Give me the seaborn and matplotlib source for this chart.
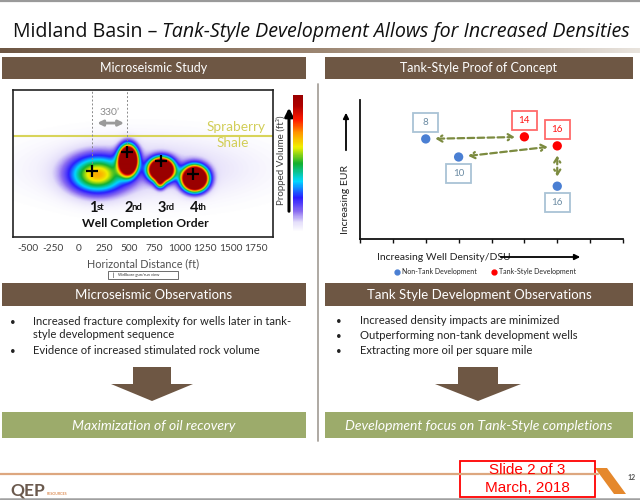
import numpy as np
import pandas as pd
import matplotlib
matplotlib.use("Agg")
import matplotlib.pyplot as plt
import seaborn as sns
from matplotlib.patches import Rectangle, Polygon
from matplotlib.colors import LinearSegmentedColormap
from matplotlib.lines import Line2D

# ---------------- data ----------------
# microseismic study (left)
well_x_ft = [130, 480, 810, 1130]
well_level = [45, 58, 52, 43]          # vertical position of each well (0 = bottom, 100 = top)
well_num = ["1", "2", "3", "4"]
well_suffix = ["st", "nd", "rd", "th"]
dist_ticks = [-500, -250, 0, 250, 500, 750, 1000, 1250, 1500, 1750]
shale_level = 69
spacing_label = "330’"

# stimulated volume blobs
blob_x = [180, 488, 818, 1148, 805, 650]
blob_y = [42, 52, 45.5, 39.5, 36.5, 46]
blob_sx = [185, 53, 71, 73, 30, 650]
blob_sy = [8.5, 5.6, 4.4, 4.8, 2.6, 13]
blob_peak = [0.62, 3.0, 3.0, 3.0, 0.55, 0.11]

# tank-style proof of concept (right)
nontank_density = [2, 3, 6]
nontank_eur = [7.2, 5.9, 3.8]
nontank_wells = [8, 10, 16]
nontank_label_side = [1, -1, -1]
tank_density = [5, 6]
tank_eur = [7.35, 6.7]
tank_wells = [14, 16]
tank_label_side = [1, 1]
links = [("nt", 0, "t", 0), ("nt", 1, "t", 1), ("t", 1, "nt", 2)]

left_bullets = ["Increased fracture complexity for wells later in tank-\nstyle development sequence",
                "Evidence of increased stimulated rock volume"]
right_bullets = ["Increased density impacts are minimized",
                 "Outperforming non-tank development wells",
                 "Extracting more oil per square mile"]

BROWN = "#6E5744"
GREEN = "#9CAB6B"
BLUE = "#4A7FD3"
RED = "#FF0000"
OLIVE = "#7C8B40"

sns.set_style("white")
plt.rcParams["font.family"] = ["Lato", "DejaVu Sans"]

W, H = 640, 500
fig = plt.figure(figsize=(6.4, 5.0), dpi=100)


def px(x0, y0, x1, y1):
    return [x0 / W, 1 - y1 / H, (x1 - x0) / W, (y1 - y0) / H]


bg = fig.add_axes([0, 0, 1, 1])
bg.set_zorder(-1)

# gradient bar under title
grad = LinearSegmentedColormap.from_list("g", ["#6E5744", "#9c8672", "#e9e4de"])
bg.imshow(np.linspace(0, 1, 256)[None, :], extent=[0, 640, 53, 48], cmap=grad, aspect="auto")
bg.set_xlim(0, W)
bg.set_ylim(H, 0)
bg.axis("off")

bg.plot([0, 640], [0.8, 0.8], color="#9a9a9a", lw=1.6)
bg.plot([0, 640], [498.8, 498.8], color="#a0a0a0", lw=1.8)

# title
t1 = bg.text(13, 37, "Midland Basin – ", fontsize=14.1, family="Open Sans", va="baseline", color="#111111")
bg.annotate("Tank-Style Development Allows for Increased Densities", xy=(1, 0), xycoords=t1,
            va="bottom", ha="left", fontsize=14.1, family="Open Sans", style="italic", color="#111111")


def band(x0, x1, y0, y1, color, text, italic=False, size=9):
    bg.add_patch(Rectangle((x0, y0), x1 - x0, y1 - y0, facecolor=color, edgecolor="none"))
    bg.text((x0 + x1) / 2, (y0 + y1) / 2 + 0.5, text, color="white", ha="center", va="center",
            fontsize=size, style="italic" if italic else "normal")


band(2, 306, 57, 79, BROWN, "Microseismic Study")
band(325, 633, 57, 79, BROWN, "Tank-Style Proof of Concept")
band(2, 306, 283, 306, BROWN, "Microseismic Observations", size=9.5)
band(325, 633, 283, 306, BROWN, "Tank Style Development Observations", size=9.5)
band(2, 306, 412, 438, GREEN, "Maximization of oil recovery", italic=True, size=10)
band(325, 633, 412, 438, GREEN, "Development focus on Tank-Style completions", italic=True, size=10)

bg.plot([318, 318], [84, 441], color="#a8a29c", lw=1.3)


def down_arrow(cx, sw, hw, top, neck, tip):
    pts = [(cx - sw / 2, top), (cx + sw / 2, top), (cx + sw / 2, neck), (cx + hw / 2, neck),
           (cx, tip), (cx - hw / 2, neck), (cx - sw / 2, neck)]
    bg.add_patch(Polygon(pts, closed=True, facecolor=BROWN, edgecolor="none"))


down_arrow(152, 38, 82, 367, 384, 401)
down_arrow(478, 40, 86, 367, 384, 401)

# bullets
yy = [322, 351]
for y, s in zip(yy, left_bullets):
    bg.text(10, y - 4, "•", fontsize=7, va="top", color="#222222")
    bg.text(33, y - 6, s, fontsize=8.15, va="top", color="#222222", linespacing=1.2)
for i, s in enumerate(right_bullets):
    y = 321 + i * 15
    bg.text(336, y - 4, "•", fontsize=7, va="top", color="#222222")
    bg.text(360, y - 6, s, fontsize=8.15, va="top", color="#222222")

# footer
bg.plot([0, 598], [474, 474], color="#DDA77F", lw=1.6)
logo = bg.text(10, 496, "QEP", fontsize=12.5, fontweight="bold", color="#6B5A4E", va="baseline")
bg.annotate("RESOURCES", xy=(1, 0), xycoords=logo, xytext=(1.5, 2.5), textcoords="offset points",
            fontsize=2.6, color="#D2691E", ha="left", va="bottom")
bg.add_patch(Polygon([(595, 468), (607, 468), (626, 494), (614, 494)], closed=True,
                     facecolor="#E5882C", edgecolor="none"))
bg.text(628, 478, "12", fontsize=5, color="#555555", fontweight="bold", va="center")
bg.add_patch(Rectangle((460, 461), 135, 36, facecolor="white", edgecolor="#FF0000", lw=1.3))
bg.text(527.5, 470.5, "Slide 2 of 3", family="Liberation Sans", fontsize=11, color="#FF0000",
        ha="center", va="center")
bg.text(527.5, 487.5, "March, 2018", family="Liberation Sans", fontsize=11, color="#FF0000",
        ha="center", va="center")

# ---------------- microseismic heatmap ----------------
hm = fig.add_axes(px(13, 90, 273, 237))
xs = np.linspace(-650, 1920, 520)
ys = np.linspace(0, 100, 220)
X, Y = np.meshgrid(xs, ys)
field = np.zeros_like(X)
for bx, by, sx, sy, pk in zip(blob_x, blob_y, blob_sx, blob_sy, blob_peak):
    field += pk * np.exp(-0.5 * (((X - bx) / sx) ** 2 + ((Y - by) / sy) ** 2))

vol_cmap = LinearSegmentedColormap.from_list("vol", [
    (0.0, "#ffffff"), (0.07, "#e4defa"), (0.15, "#8a6cf0"), (0.25, "#2a1cff"),
    (0.37, "#00d8ff"), (0.5, "#12b030"), (0.62, "#f0f000"), (0.72, "#ff9c00"),
    (0.82, "#ff1a00"), (0.92, "#b00000"), (1.0, "#9a0000")])
im = hm.imshow(field, extent=[-650, 1920, 0, 100], origin="lower", aspect="auto",
               cmap=vol_cmap, vmin=0, vmax=1, interpolation="bilinear")
hm.set_xlim(-650, 1920)
hm.set_ylim(0, 100)
for sp in hm.spines.values():
    sp.set_color("#222222")
    sp.set_linewidth(1.2)
hm.set_yticks([])
hm.set_xticks(dist_ticks)
hm.set_xticklabels([str(t) for t in dist_ticks])
hm.tick_params(axis="x", length=0, labelsize=7.3, labelcolor="#404040", pad=5)
hm.set_xlabel("Horizontal Distance (ft)", fontsize=7.8, color="#505050", labelpad=4)

hm.axhline(shale_level, color="#D8D45A", lw=1.5)
hm.text(1555, shale_level + 6, "Spraberry", color="#D2CE58", fontsize=9.8, ha="center", va="center")
hm.text(1525, shale_level - 5, "Shale", color="#D2CE58", fontsize=9.8, ha="center", va="center")

for i in range(2):
    hm.plot([well_x_ft[i], well_x_ft[i]], [well_level[i], 100], color="#8a8a8a", lw=0.7, ls=(0, (2, 2)))
hm.annotate("", xy=(well_x_ft[1] - 5, 77.5), xytext=(well_x_ft[0] + 25, 77.5),
            arrowprops=dict(arrowstyle="<|-|>", color="#9a9a9a", lw=2, mutation_scale=8))
hm.text((well_x_ft[0] + well_x_ft[1]) / 2, 84.5, spacing_label, color="#8a8a8a", fontsize=7.5,
        ha="center", va="center")

hm.plot(well_x_ft, well_level, ls="none", marker="+", ms=9, mew=1.6, color="black")
for x, n, suf in zip(well_x_ft, well_num, well_suffix):
    t = hm.text(x + 10, 20, n, fontsize=10.5, fontweight="bold", ha="center", va="center", color="#111111")
    hm.annotate(suf, xy=(1, 1), xycoords=t, xytext=(-0.5, -1.5), textcoords="offset points",
                fontsize=6.8, fontweight="bold", ha="left", va="top", color="#111111")
hm.text(655, 9.5, "Well Completion Order", fontsize=8.7, fontweight="bold", ha="center",
        va="center", color="#111111")

cax = fig.add_axes(px(293, 95, 303, 232))
cb = fig.colorbar(im, cax=cax)
cb.outline.set_visible(False)
cb.set_ticks([])
bg.annotate("", xy=(289, 105), xytext=(289, 214),
            arrowprops=dict(arrowstyle="-|>", color="black", lw=2.2, mutation_scale=12))
bg.text(281, 160, "Propped Volume (ft³)", rotation=90, fontsize=7, color="#404040",
        ha="center", va="center")

bg.add_patch(Rectangle((108, 271), 70, 8, facecolor="white", edgecolor="#555555", lw=0.6))
bg.text(113, 275, "|", fontsize=3.5, fontweight="bold", ha="center", va="center")
bg.text(118, 275, "Wellbore gun/run view", fontsize=3, ha="left", va="center", color="#333333")

# ---------------- tank-style scatter ----------------
df = pd.DataFrame({
    "density": nontank_density + tank_density,
    "eur": nontank_eur + tank_eur,
    "wells": nontank_wells + tank_wells,
    "side": nontank_label_side + tank_label_side,
    "kind": ["Non-Tank Development"] * len(nontank_density) + ["Tank-Style Development"] * len(tank_density),
})

sc = fig.add_axes(px(360, 100, 623, 239))
sns.scatterplot(data=df, x="density", y="eur", hue="kind", ax=sc, s=45, edgecolor="none",
                palette={"Non-Tank Development": BLUE, "Tank-Style Development": RED},
                legend=False, zorder=5)
sc.set_xlim(0, 8)
sc.set_ylim(0, 10)
sc.set_xlabel("")
sc.set_ylabel("")
for s in ["top", "right"]:
    sc.spines[s].set_visible(False)
for s in ["left", "bottom"]:
    sc.spines[s].set_color("#111111")
    sc.spines[s].set_linewidth(1.3)
sc.set_xticks(range(0, 9))
sc.set_xticklabels([])
sc.set_yticks([])
sc.tick_params(axis="x", direction="out", length=3, width=1, color="#111111", bottom=True)

box_w, box_h, box_off = 0.76, 1.37, 1.18
for _, r in df.iterrows():
    tank = r["kind"].startswith("Tank")
    cy = r["eur"] + r["side"] * box_off
    sc.add_patch(Rectangle((r["density"] - box_w / 2, cy - box_h / 2), box_w, box_h,
                           facecolor="white", edgecolor="#FF6A6A" if tank else "#A9C3D5", lw=1.3, zorder=3))
    sc.text(r["density"], cy, str(r["wells"]), fontsize=7, ha="center", va="center",
            color="#FF1010" if tank else "#6B8BA3", zorder=4)

pts = {"nt": list(zip(nontank_density, nontank_eur)), "t": list(zip(tank_density, tank_eur))}
for a, i, b, j in links:
    sc.annotate("", xy=pts[b][j], xytext=pts[a][i],
                arrowprops=dict(arrowstyle="<->,head_length=0.35,head_width=0.22", color=OLIVE,
                                lw=1.6, ls=(0, (3, 1.5)), shrinkA=7, shrinkB=7), zorder=2)

bg.text(346, 200, "Increasing EUR", rotation=90, fontsize=7.5, color="#222222", ha="center", va="center")
bg.annotate("", xy=(346, 110), xytext=(346, 153),
            arrowprops=dict(arrowstyle="-|>", color="black", lw=1.3, mutation_scale=8))
bg.text(377, 257, "Increasing Well Density/DSU", fontsize=7.5, color="#222222", ha="left", va="center")
bg.annotate("", xy=(583, 257), xytext=(498, 257),
            arrowprops=dict(arrowstyle="-|>", color="black", lw=1.3, mutation_scale=8))

handles = [Line2D([], [], ls="none", marker="o", ms=3.5, color=BLUE),
           Line2D([], [], ls="none", marker="o", ms=3.5, color=RED)]
sc.legend(handles, ["Non-Tank Development", "Tank-Style Development"], loc="center",
          bbox_to_anchor=(0.476, -0.237), ncol=2, frameon=False, fontsize=5,
          handletextpad=0.2, columnspacing=2.2, handlelength=0.8)

fig.savefig("out.png", dpi=100)
